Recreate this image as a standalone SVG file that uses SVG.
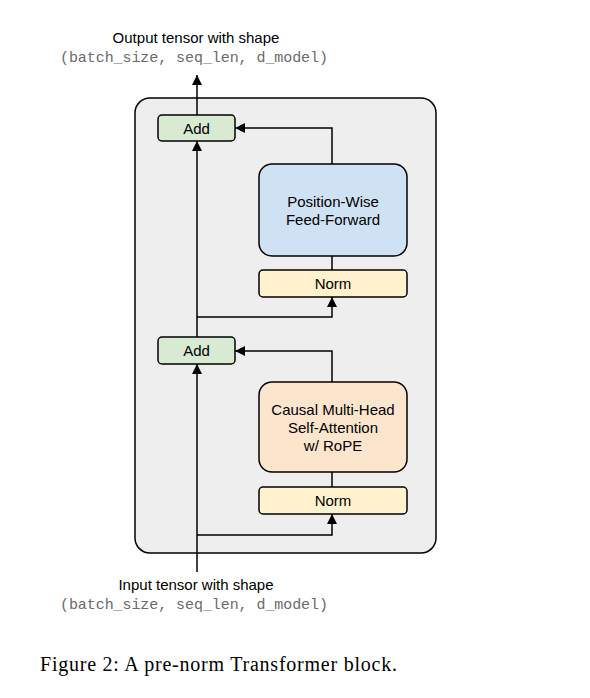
<svg xmlns="http://www.w3.org/2000/svg" width="590" height="698" viewBox="0 0 590 698">
<defs>
<marker id="ah" viewBox="0 0 10 10" refX="10" refY="5" markerWidth="10" markerHeight="10" markerUnits="userSpaceOnUse" orient="auto">
<path d="M0,0 L10,5 L0,10 z" fill="#000"/>
</marker>
<style>
.box{stroke:#000;stroke-width:1.5}
.lbl{font-family:"Liberation Sans",Arial,sans-serif;font-size:15px;fill:#000;text-anchor:middle}
.mono{font-family:"Liberation Mono","Courier New",monospace;font-size:15px;fill:#6a6a6a;text-anchor:middle}
.ln{fill:none;stroke:#000;stroke-width:1.5}
</style>
</defs>
<rect width="590" height="698" fill="#fff"/>
<g id="block"><rect class="box" x="135" y="98" width="301" height="455" rx="15" fill="#eeeeee"/></g>
<g id="connectors">
<path class="ln" d="M197,572 V364" marker-end="url(#ah)"/>
<path class="ln" d="M197,535 H332 V514" marker-end="url(#ah)"/>
<path class="ln" d="M332,487 V472"/>
<path class="ln" d="M332,382 V351 H235" marker-end="url(#ah)"/>
<path class="ln" d="M197,337 V141" marker-end="url(#ah)"/>
<path class="ln" d="M197,317 H332 V297" marker-end="url(#ah)"/>
<path class="ln" d="M332,270 V256"/>
<path class="ln" d="M332,164 V128 H235" marker-end="url(#ah)"/>
<path class="ln" d="M197,115 V75" marker-end="url(#ah)"/>
</g>
<g id="add_top"><rect class="box" x="158" y="115" width="77" height="26" rx="4" fill="#d9ead3"/><text class="lbl" x="196.5" y="133.5">Add</text></g>
<g id="ffn"><rect class="box" x="259" y="164" width="148" height="92" rx="13" fill="#cfe2f3"/><text class="lbl" x="333" y="207">Position-Wise</text><text class="lbl" x="333" y="225">Feed-Forward</text></g>
<g id="norm_top"><rect class="box" x="259" y="270" width="148" height="27" rx="4" fill="#fff2cc"/><text class="lbl" x="333" y="289">Norm</text></g>
<g id="add_bottom"><rect class="box" x="158" y="337" width="77" height="27" rx="4" fill="#d9ead3"/><text class="lbl" x="196.5" y="356">Add</text></g>
<g id="attn"><rect class="box" x="259" y="382" width="148" height="90" rx="13" fill="#fce5cd"/><text class="lbl" x="333" y="415">Causal Multi-Head</text><text class="lbl" x="333" y="433">Self-Attention</text><text class="lbl" x="333" y="451">w/ RoPE</text></g>
<g id="norm_bottom"><rect class="box" x="259" y="487" width="148" height="27" rx="4" fill="#fff2cc"/><text class="lbl" x="333" y="506">Norm</text></g>
<g id="output_label"><text class="lbl" x="196" y="43">Output tensor with shape</text><text class="mono" x="194" y="62" textLength="268">(batch_size, seq_len, d_model)</text></g>
<g id="input_label"><text class="lbl" x="196" y="590">Input tensor with shape</text><text class="mono" x="194" y="609" textLength="268">(batch_size, seq_len, d_model)</text></g>
<text x="40" y="671" font-family="'Liberation Serif','Times New Roman',serif" font-size="20" fill="#000" textLength="357">Figure 2: A pre-norm Transformer block.</text>
</svg>
